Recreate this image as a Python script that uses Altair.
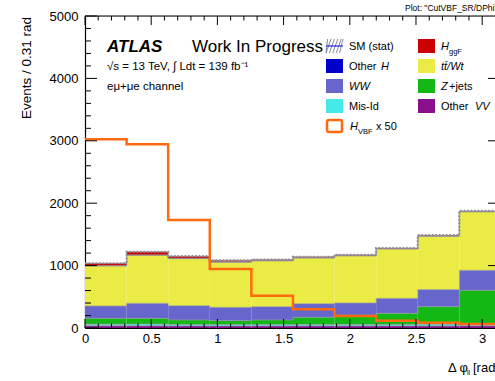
import altair as alt
import pandas as pd

# ---------------- data ----------------
edges = [0.0, 0.31416, 0.62832, 0.94248, 1.25664, 1.5708,
         1.88496, 2.19911, 2.51327, 2.82743, 3.14159]
other_vv = [35, 35, 33, 32, 32, 33, 33, 33, 33, 35]
mis_id   = [27, 28, 25, 25, 25, 25, 25, 25, 27, 30]
zjets    = [93, 93, 70, 61, 71, 113, 147, 177, 282, 539]
ww       = [198, 240, 230, 213, 214, 219, 195, 240, 273, 321]
ttbar    = [640, 770, 753, 724, 733, 730, 755, 790, 855, 935]
other_h  = [5, 5, 5, 5, 5, 5, 5, 5, 5, 5]
hggf     = [40, 50, 35, 25, 18, 15, 13, 12, 12, 12]
hvbf_x50 = [3024, 2944, 1731, 946, 518, 300, 192, 117, 85, 64]

samples = ["Other VV", "Mis-Id", "Z+jets", "WW", "ttbar", "Other H", "HggF"]
series = [other_vv, mis_id, zjets, ww, ttbar, other_h, hggf]
colors = ["#8a0f8a", "#47e8e8", "#14b814", "#6666cc", "#ebeb45", "#0000cc", "#cc0000"]

y_ticks_major = [0, 1000, 2000, 3000, 4000, 5000]
x_ticks_major = [0, 0.5, 1, 1.5, 2, 2.5, 3]

# ---------------- geometry ----------------
W, H = 410, 312
XMAX = 3.0967

xs = alt.Scale(domain=[0, XMAX], nice=False, zero=False)
ys = alt.Scale(domain=[0, 5000], nice=False)

# stacked rects
rows = []
outline = []
cum = [0.0] * 10
for name, vals in zip(samples, series):
    for i in range(10):
        y0 = cum[i]
        y1 = cum[i] + vals[i]
        rows.append(dict(sample=name, x=edges[i], x2=edges[i + 1], y=y0, y2=y1))
        outline.append(dict(sample=name, x=edges[i], v=y1, o=i))
        cum[i] = y1
    outline.append(dict(sample=name, x=edges[10], v=cum[9], o=10))
stack_df = pd.DataFrame(rows)
outline_df = pd.DataFrame(outline)

total_df = pd.DataFrame(
    [dict(x=edges[i], v=cum[i], o=i) for i in range(10)] + [dict(x=edges[10], v=cum[9], o=10)]
)
vbf_df = pd.DataFrame(
    [dict(x=edges[i], v=hvbf_x50[i], o=i) for i in range(10)] + [dict(x=edges[10], v=hvbf_x50[9], o=10)]
)

rects = alt.Chart(stack_df).mark_rect(clip=True).encode(
    x=alt.X("x:Q", scale=xs, axis=alt.Axis(
        values=x_ticks_major, format="~g", title=None, ticks=False, grid=False,
        labelFont="Liberation Sans", labelFontSize=13, labelColor="black",
        labelFlush=False, labelOverlap=False,
        labelPadding=4, domainColor="black", domainWidth=1.2)),
    x2="x2:Q",
    y=alt.Y("y:Q", scale=ys, axis=alt.Axis(
        values=y_ticks_major, format="d", title=None, ticks=False, grid=False,
        labelFont="Liberation Sans", labelFontSize=13, labelColor="black",
        labelFlush=False, labelOverlap=False,
        labelPadding=7, domainColor="black", domainWidth=1.2)),
    y2="y2:Q",
    color=alt.Color("sample:N", scale=alt.Scale(domain=samples, range=colors), legend=None),
)

outlines = alt.Chart(outline_df).mark_line(
    interpolate="step-after", clip=True, color="#9a9a9a", strokeWidth=0.7
).encode(x=alt.X("x:Q", scale=xs), y=alt.Y("v:Q", scale=ys), detail="sample:N", order="o:Q")

stat = alt.Chart(total_df).mark_line(
    interpolate="step-after", clip=True, color="#8a8a9a", strokeWidth=2.2, strokeDash=[1.5, 2]
).encode(x=alt.X("x:Q", scale=xs), y=alt.Y("v:Q", scale=ys), order="o:Q")

vbf = alt.Chart(vbf_df).mark_line(
    interpolate="step-after", clip=True, color="#ff6a10", strokeWidth=2.5
).encode(x=alt.X("x:Q", scale=xs), y=alt.Y("v:Q", scale=ys), order="o:Q")

# ---------------- inward ticks ----------------
y_minor = [v for v in range(0, 5001, 200) if v % 1000 != 0]
x_minor = [round(k * 0.1, 1) for k in range(0, 31) if k % 5 != 0]

def vrule_ticks(vals, y0, y1):
    return alt.Chart(pd.DataFrame({"v": vals})).mark_rule(color="black", strokeWidth=1).encode(
        x=alt.X("v:Q", scale=xs), y=alt.value(y0), y2=alt.value(y1))

def hrule_ticks(vals, x0, x1):
    return alt.Chart(pd.DataFrame({"v": vals})).mark_rule(color="black", strokeWidth=1).encode(
        y=alt.Y("v:Q", scale=ys), x=alt.value(x0), x2=alt.value(x1))

ticks = [
    vrule_ticks(x_ticks_major, H, H - 9),
    vrule_ticks(x_minor, H, H - 4.5),
    vrule_ticks(x_ticks_major, 0, 9),
    vrule_ticks(x_minor, 0, 4.5),
    hrule_ticks(y_ticks_major, 0, 12),
    hrule_ticks(y_minor, 0, 6),
    hrule_ticks(y_ticks_major[1:-1], 403, W),
]

top_line = alt.Chart(pd.DataFrame({"a": [0]})).mark_rule(color="black", strokeWidth=1.2).encode(
    x=alt.value(0), x2=alt.value(W), y=alt.value(0))

# ---------------- text helpers ----------------
FONT = "Liberation Sans"

def txt(s, x, y, size, style="normal", weight="normal", align="left",
        angle=0, baseline="alphabetic", color="black"):
    return alt.Chart(pd.DataFrame({"t": [s]})).mark_text(
        font=FONT, fontSize=size, fontStyle=style, fontWeight=weight,
        align=align, baseline=baseline, angle=angle, color=color
    ).encode(x=alt.value(x), y=alt.value(y), text="t:N")

def box(x0, y0, x1, y1, fill):
    return alt.Chart(pd.DataFrame({"a": [0]})).mark_rect(fill=fill).encode(
        x=alt.value(x0), x2=alt.value(x1), y=alt.value(y0), y2=alt.value(y1))

texts = [
    txt("ATLAS", 22, 36, 17, style="italic", weight="bold"),
    txt("Work In Progress", 107, 36, 17),
    txt("√s = 13 TeV, ∫ Ldt = 139 fb⁻¹", 22, 54, 11.5),
    txt("eμ+μe channel", 22, 74, 11.5),
    txt('Plot: "CutVBF_SR/DPhill"', 320, -5, 8.5),
    txt("Events / 0.31 rad", -58, 1, 13.5, align="right", angle=270, baseline="middle"),
    txt("Δ φ", 363, 356, 13),
    txt("ll", 382, 359, 7),
    txt("[rad]", 388, 356, 13),
]

# ---------------- legend ----------------
c1s, c2s, sw = 241, 333, 17
c1t, c2t = 264, 356
rc = [30, 50, 70, 90, 110]
LS = 11

legend = []
# SM (stat) hatch symbol
legend.append(box(c1s, rc[0] - 7, c1s + sw, rc[0] + 7, "white"))
hatch = pd.DataFrame([
    dict(x=c1s + k * 3.4, y=rc[0] + 7, x2=c1s + k * 3.4 + 5, y2=rc[0] - 7)
    for k in range(-1, 5)
])
hatch["x"] = hatch["x"].clip(lower=c1s)
hatch["x2"] = hatch["x2"].clip(upper=c1s + sw)
legend.append(alt.Chart(hatch).mark_rule(color="#8888a0", strokeWidth=1).encode(
    x=alt.X("x:Q", scale=None), x2="x2:Q", y=alt.Y("y:Q", scale=None), y2="y2:Q"))
legend.append(alt.Chart(pd.DataFrame({"a": [0]})).mark_rule(color="#2020dd", strokeWidth=1.2).encode(
    x=alt.value(c1s), x2=alt.value(c1s + sw), y=alt.value(rc[0])))
legend.append(txt("SM (stat)", c1t, rc[0] + 4, LS))

legend.append(box(c1s, rc[1] - 7, c1s + sw, rc[1] + 7, colors[5]))
legend.append(txt("Other", c1t, rc[1] + 4, LS))
legend.append(txt("H", c1t + 32, rc[1] + 4, LS, style="italic"))

legend.append(box(c1s, rc[2] - 7, c1s + sw, rc[2] + 7, colors[3]))
legend.append(txt("WW", c1t, rc[2] + 4, LS, style="italic"))

legend.append(box(c1s, rc[3] - 7, c1s + sw, rc[3] + 7, colors[1]))
legend.append(txt("Mis-Id", c1t, rc[3] + 4, LS))

legend.append(alt.Chart(pd.DataFrame({"a": [0]})).mark_rect(
    filled=False, stroke="#ff6a10", strokeWidth=2.5, cornerRadius=2).encode(
    x=alt.value(c1s + 1), x2=alt.value(c1s + sw - 1), y=alt.value(rc[4] - 6), y2=alt.value(rc[4] + 6)))
legend.append(txt("H", c1t + 1, rc[4] + 4, LS, style="italic"))
legend.append(txt("VBF", c1t + 9, rc[4] + 8, 7.5))
legend.append(txt("x 50", c1t + 27, rc[4] + 4, LS))

legend.append(box(c2s, rc[0] - 7, c2s + sw, rc[0] + 7, colors[6]))
legend.append(txt("H", c2t, rc[0] + 4, LS, style="italic"))
legend.append(txt("ggF", c2t + 8, rc[0] + 8, 7.5))

legend.append(box(c2s, rc[1] - 7, c2s + sw, rc[1] + 7, colors[4]))
legend.append(txt("tt̄/Wt", c2t, rc[1] + 4, LS, style="italic"))

legend.append(box(c2s, rc[2] - 7, c2s + sw, rc[2] + 7, colors[2]))
legend.append(txt("Z", c2t, rc[2] + 4, LS, style="italic"))
legend.append(txt("+jets", c2t + 8, rc[2] + 4, LS))

legend.append(box(c2s, rc[3] - 7, c2s + sw, rc[3] + 7, colors[0]))
legend.append(txt("Other", c2t, rc[3] + 4, LS))
legend.append(txt("VV", c2t + 34, rc[3] + 4, LS, style="italic"))

chart = alt.layer(
    rects, outlines, stat, vbf, *ticks, top_line, *texts, *legend
).properties(
    width=W, height=H,
    padding={"left": 85, "top": 16, "right": 0, "bottom": 53},
    autosize=alt.AutoSizeParams(type="none"),
).configure_view(stroke=None).configure(background="white")

chart.save("out.html", embed_options={"renderer": "svg", "actions": False})
